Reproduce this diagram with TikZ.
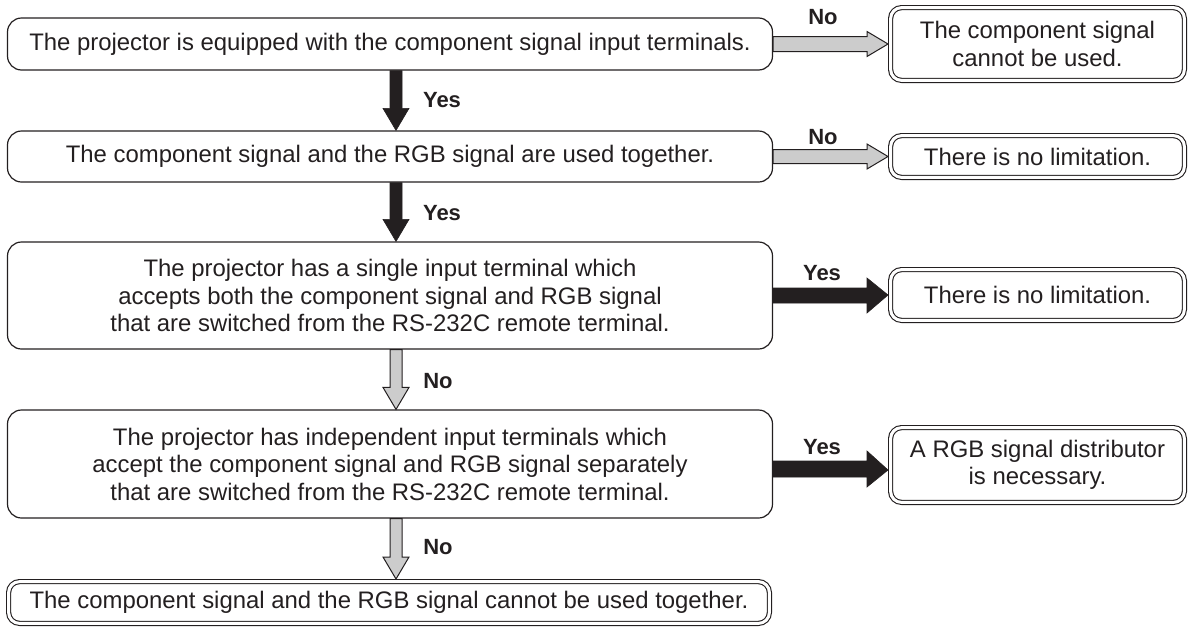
\documentclass[tikz,border=0pt]{standalone}
\usepackage{fontspec}
\setmainfont{Liberation Sans}
\usetikzlibrary{calc}
\definecolor{ink}{HTML}{231F20}
\definecolor{arrowgray}{HTML}{CCCCCC}
\tikzset{
  txt/.style={font=\fontsize{23.9}{27.5}\selectfont, text=ink, align=center},
  lab/.style={font=\fontsize{22}{26}\selectfont\bfseries, text=ink},
  qbox/.style={txt, draw=ink, line width=1.2pt, rounded corners=14pt, inner sep=0pt,
               minimum width=765pt},
  res/.style={txt, draw=ink, line width=1.1pt, double=white, double distance=3pt,
              rounded corners=11pt, inner sep=0pt, outer sep=2.6pt},
  vfat/.style 2 args={to path={let \p1=(\tikztostart), \p2=(\tikztotarget) in
     (\x1-#1,\y1) -- (\x1-#1,\y2+22pt) -- (\x1-#2,\y2+22pt) -- (\x2,\y2)
     -- (\x1+#2,\y2+22pt) -- (\x1+#1,\y2+22pt) -- (\x1+#1,\y1) -- cycle}},
  hfat/.style 2 args={to path={let \p1=(\tikztostart), \p2=(\tikztotarget) in
     (\x1,\y1+#1) -- (\x2-21pt,\y1+#1) -- (\x2-21pt,\y1+#2) -- (\x2,\y2)
     -- (\x2-21pt,\y1-#2) -- (\x2-21pt,\y1-#1) -- (\x1,\y1-#1) -- cycle}},
  blackarrow/.style={fill=ink, draw=ink, line width=0.6pt, line join=miter},
  grayarrow/.style={fill=arrowgray, draw=ink, line width=1pt, line join=miter},
}
\begin{document}
\begin{tikzpicture}[x=1pt, y=-1pt]
\useasboundingbox (0,0) rectangle (1188,627);

% question boxes
\node[qbox, minimum height=52pt] (b1) at (390,44)
  {The projector is equipped with the component signal input terminals.};
\node[qbox, minimum height=51pt] (b2) at (390,156.5)
  {The component signal and the RGB signal are used together.};
\node[qbox, minimum height=107pt] (b3) at (390,295.5)
  {The projector has a single input terminal which\\
   accepts both the component signal and RGB signal\\
   that are switched from the RS-232C remote terminal.};
\node[qbox, minimum height=108pt] (b4) at (390,464)
  {The projector has independent input terminals which\\
   accept the component signal and RGB signal separately\\
   that are switched from the RS-232C remote terminal.};

% result boxes
\node[res, minimum width=293.8pt, minimum height=72.8pt] (rA) at (1037.5,44)
  {The component signal\\cannot be used.};
\node[res, minimum width=293.8pt, minimum height=41.8pt] (rB) at (1037.5,156.5)
  {There is no limitation.};
\node[res, minimum width=293.8pt, minimum height=50.8pt] (rC) at (1037.5,295)
  {There is no limitation.};
\node[res, minimum width=293.8pt, minimum height=74.8pt] (rD) at (1037.5,465)
  {A RGB signal distributor\\is necessary.};
\node[res, minimum width=760.8pt, minimum height=41.8pt] (b5) at (389,602.5)
  {The component signal and the RGB signal cannot be used together.};

% arrow axis
\coordinate (ax) at (396,0);

% vertical arrows
\draw[blackarrow] (b1.south -| ax) to[vfat={6pt}{13pt}] (b2.north -| ax);
\draw[blackarrow] (b2.south -| ax) to[vfat={6pt}{13pt}] (b3.north -| ax);
\draw[grayarrow]  (b3.south -| ax) to[vfat={6pt}{13pt}] (b4.north -| ax);
\draw[grayarrow]  (b4.south -| ax) to[vfat={6pt}{13pt}] (b5.north -| ax);

% horizontal arrows
\draw[grayarrow]  (b1.east) to[hfat={7.5pt}{12.5pt}] (rA.west);
\draw[grayarrow]  (b2.east) to[hfat={7pt}{12.5pt}] (rB.west);
\draw[blackarrow] (b3.east) to[hfat={7.5pt}{17.5pt}] (rC.west);
\draw[blackarrow] ([yshift=-5pt]b4.east) to[hfat={8pt}{18pt}] ([yshift=-5pt]rD.west);

% labels
\node[lab] (l1) at (823,17) {No};
\node[lab] (l2) at (442,100) {Yes};
\node[lab] (l3) at (823,137) {No};
\node[lab] (l4) at (442,213) {Yes};
\node[lab] (l5) at (822,273) {Yes};
\node[lab] (l6) at (438,381) {No};
\node[lab] (l7) at (822,447) {Yes};
\node[lab] (l8) at (438,547) {No};
\end{tikzpicture}
\end{document}
